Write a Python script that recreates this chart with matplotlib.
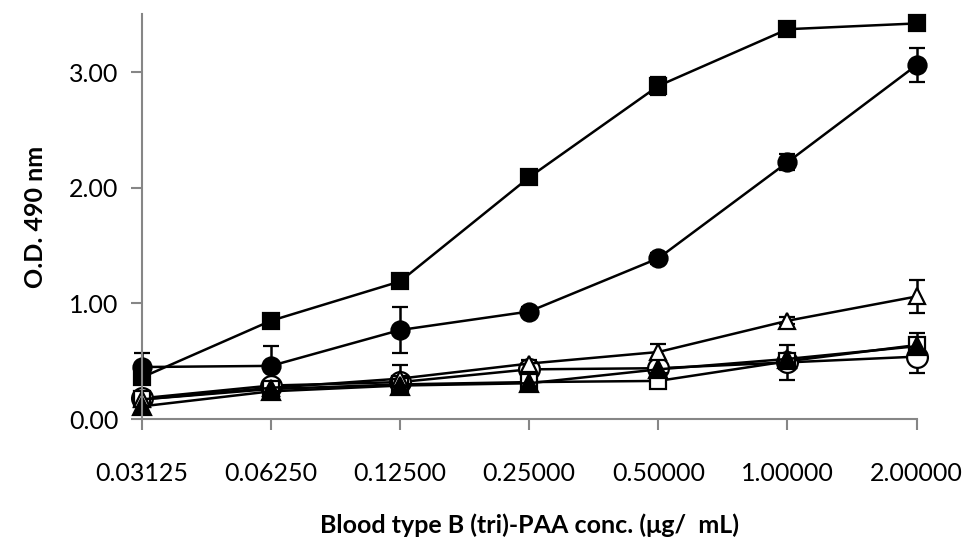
import matplotlib
matplotlib.use("Agg")
import matplotlib.pyplot as plt

conc_labels = ["0.03125", "0.06250", "0.12500", "0.25000", "0.50000", "1.00000", "2.00000"]

# O.D. 490 nm per series
open_circle = [0.18, 0.29, 0.32, 0.43, 0.44, 0.49, 0.54]
open_circle_err = [0.04, 0.03, 0.03, 0.03, 0.05, 0.15, 0.14]
open_square = [0.17, 0.26, 0.30, 0.32, 0.33, 0.50, 0.64]
open_square_err = [0.03, 0.02, 0.02, 0.02, 0.02, 0.03, 0.10]
open_triangle = [0.17, 0.27, 0.35, 0.48, 0.58, 0.85, 1.06]
open_triangle_err = [0.04, 0.03, 0.12, 0.03, 0.07, 0.03, 0.14]
filled_triangle = [0.11, 0.24, 0.29, 0.31, 0.43, 0.52, 0.63]
filled_triangle_err = [0.07, 0.02, 0.02, 0.02, 0.02, 0.04, 0.05]
filled_circle = [0.45, 0.46, 0.77, 0.93, 1.39, 2.22, 3.06]
filled_circle_err = [0.12, 0.17, 0.20, 0.04, 0.05, 0.07, 0.15]
filled_square = [0.36, 0.85, 1.19, 2.09, 2.88, 3.37, 3.42]
filled_square_err = [0.03, 0.02, 0.02, 0.04, 0.08, 0.02, 0.02]

plt.rcParams["font.family"] = ["Lato", "DejaVu Sans"]

fig = plt.figure(figsize=(9.71, 5.45), dpi=100)
ax = fig.add_axes([0.146, 0.231, 0.798, 0.743])

x = list(range(len(conc_labels)))
series = [
    (open_circle, open_circle_err, "o", "white", 15),
    (open_square, open_square_err, "s", "white", 12),
    (open_triangle, open_triangle_err, "^", "white", 12),
    (filled_triangle, filled_triangle_err, "^", "black", 13),
    (filled_circle, filled_circle_err, "o", "black", 13),
    (filled_square, filled_square_err, "s", "black", 12),
]
for vals, err, mk, fc, ms in series:
    ax.errorbar(x, vals, yerr=err, color="black", lw=1.8, marker=mk, ms=ms,
                mfc=fc, mec="black", mew=1.6, ecolor="black", elinewidth=1.8,
                capsize=6, capthick=1.8, clip_on=False)

ax.set_xlim(0, 6)
ax.set_ylim(0, 3.5)
ax.set_xticks(x)
ax.set_xticklabels(conc_labels)
ax.set_yticks([0, 1, 2, 3])
ax.set_yticklabels(["0.00", "1.00", "2.00", "3.00"])

for s in ["top", "right"]:
    ax.spines[s].set_visible(False)
for s in ["left", "bottom"]:
    ax.spines[s].set_color("#868686")
    ax.spines[s].set_linewidth(1.5)
ax.tick_params(axis="both", colors="#868686", width=1.5, length=8,
               labelcolor="black", labelsize=18)
ax.tick_params(axis="x", pad=23)
ax.tick_params(axis="y", pad=9)

ax.set_ylabel("O.D. 490 nm", fontsize=18, fontweight="bold", labelpad=16)
ax.set_xlabel("Blood type B (tri)-PAA conc. (\u03bcg/  mL)", fontsize=18,
              fontweight="bold", labelpad=20)

fig.savefig("out.png", dpi=100)
